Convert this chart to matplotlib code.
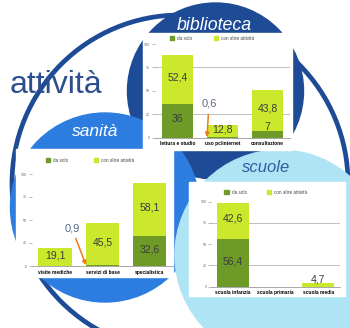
import numpy as np
import matplotlib.pyplot as plt
from matplotlib.patches import Circle, Rectangle

plt.rcParams['font.family'] = ['Liberation Sans', 'DejaVu Sans']

W, H = 350, 328

DARK = '#6e9a28'
LIGHT = '#cbe82c'
NAVY = '#1e4b96'
MID_BLUE = '#2d7de1'
PALE_BLUE = '#afe4f5'

legend_labels = ['da solo', 'con altre attività']

# biblioteca
bib_cats = ['lettura e studio', 'uso pc/internet', 'consultazione']
bib_solo = [36, 0.6, 7]
bib_altre = [52.4, 12.8, 43.8]

# sanità
san_cats = ['visite mediche', 'servizi di base', 'specialistica']
san_solo = [0, 0.9, 32.6]
san_altre = [19.1, 45.5, 58.1]

# scuole
scu_cats = ['scuola infanzia', 'scuola primaria', 'scuola media']
scu_solo = [56.4, 0, 0]
scu_altre = [42.6, 0, 4.7]

yticks = [0, 25, 50, 75, 100]


def fmt(v):
    return f'{v:g}'.replace('.', ',')


def px_axes(left, top, right, bottom):
    return fig.add_axes([left / W, 1 - bottom / H, (right - left) / W, (bottom - top) / H])


def draw_chart(ax, cats, solo, altre, width, grid_vals, leg_anchor, colspace, callout_text):
    x = np.arange(len(cats))
    ax.bar(x, solo, width, color=DARK, zorder=2)
    ax.bar(x, altre, width, bottom=solo, color=LIGHT, zorder=2)

    for v in grid_vals:
        ax.axhline(v, color='#b5b5b5', lw=0.6, zorder=1)

    for i in x:
        base = 0
        for v in (solo[i], altre[i]):
            if v <= 0:
                continue
            if v < 1:
                # small share: callout with arrow
                ax.annotate(fmt(v), xy=(i - width / 2 + 0.01, base + v), xytext=callout_text,
                            ha='center', va='center', fontsize=8, color='#5b6b86',
                            arrowprops=dict(arrowstyle='-|>', color='#f07a1a', lw=1.1,
                                            mutation_scale=6, shrinkA=2, shrinkB=0),
                            zorder=4)
            elif v < 10:
                ax.text(i, base + v + 4, fmt(v), ha='center', va='center',
                        fontsize=7.5, color='#3c3c3c', zorder=3)
            else:
                ax.text(i, base + v / 2 + 2, fmt(v), ha='center', va='center',
                        fontsize=7.5, color='#3c3c3c', zorder=3)
            base += v

    ax.set_xlim(-0.5, len(cats) - 0.5)
    ax.set_ylim(0, 100)
    ax.set_yticks(yticks)
    ax.set_yticklabels([str(t) for t in yticks], fontsize=2.5, color='#666666')
    ax.set_xticks(x)
    ax.set_xticklabels(cats, fontsize=3.5, fontweight='bold', color='black')
    ax.tick_params(axis='y', length=2, width=0.4, pad=1.5, color='#888888')
    ax.tick_params(axis='x', length=0, pad=2.6)
    for s in ('top', 'right', 'left'):
        ax.spines[s].set_visible(False)
    ax.spines['bottom'].set_color('#9a9a9a')
    ax.spines['bottom'].set_linewidth(0.6)
    ax.set_facecolor('white')

    handles = [Rectangle((0, 0), 1, 1, color=DARK), Rectangle((0, 0), 1, 1, color=LIGHT)]
    ax.legend(handles, legend_labels, loc='center left', bbox_to_anchor=leg_anchor, ncol=2,
              frameon=False, fontsize=3.3, handlelength=1.0, handleheight=1.0,
              handletextpad=0.6, columnspacing=colspace, borderaxespad=0, borderpad=0,
              labelcolor='#444444')


fig = plt.figure(figsize=(3.5, 3.28), dpi=100)
fig.patch.set_facecolor('white')

bg = fig.add_axes([0, 0, 1, 1])
bg.set_xlim(0, W)
bg.set_ylim(H, 0)
bg.axis('off')

# outer ring and the three coloured discs
bg.add_patch(Circle((180, 183), 168, fill=False, ec=NAVY, lw=3.4, zorder=1))
bg.add_patch(Circle((215.5, 91), 88, color=NAVY, zorder=2))
bg.add_patch(Circle((105, 207.5), 94.5, color=MID_BLUE, zorder=3))
bg.add_patch(Circle((280, 255), 105, color=PALE_BLUE, zorder=4))

# white chart panels
bg.add_patch(Rectangle((143, 33), 149, 117, color='white', zorder=5))
bg.add_patch(Rectangle((16, 149), 157, 128, color='white', zorder=5))
bg.add_patch(Rectangle((189, 182), 156, 114, color='white', zorder=5))

bg.text(10, 93, 'attività', fontsize=23, color='#2d4f8f', ha='left', va='baseline', zorder=6)
bg.text(214.5, 25, 'biblioteca', fontsize=12.8, style='italic', color='white',
        ha='center', va='center', zorder=6)
bg.text(95, 131.5, 'sanità', fontsize=12.5, style='italic', color='white',
        ha='center', va='center', zorder=6)
bg.text(266, 167, 'scuole', fontsize=12, style='italic', color='#2d5fa0',
        ha='center', va='center', zorder=6)

ax_bib = px_axes(155, 44, 290, 137.7)
draw_chart(ax_bib, bib_cats, bib_solo, bib_altre, 0.71, [25, 75],
           (0.109, 1.064), 4.7, (0.7, 36))

ax_san = px_axes(31.9, 174, 173, 266)
draw_chart(ax_san, san_cats, san_solo, san_altre, 0.72, [],
           (0.097, 1.152), 5.6, (0.35, 41.3))

ax_scu = px_axes(211.3, 201.7, 339.7, 286.7)
draw_chart(ax_scu, scu_cats, scu_solo, scu_altre, 0.75, [25, 75],
           (0.102, 1.11), 4.3, (0.5, 50))

fig.savefig('out.png', dpi=100, facecolor='white')
